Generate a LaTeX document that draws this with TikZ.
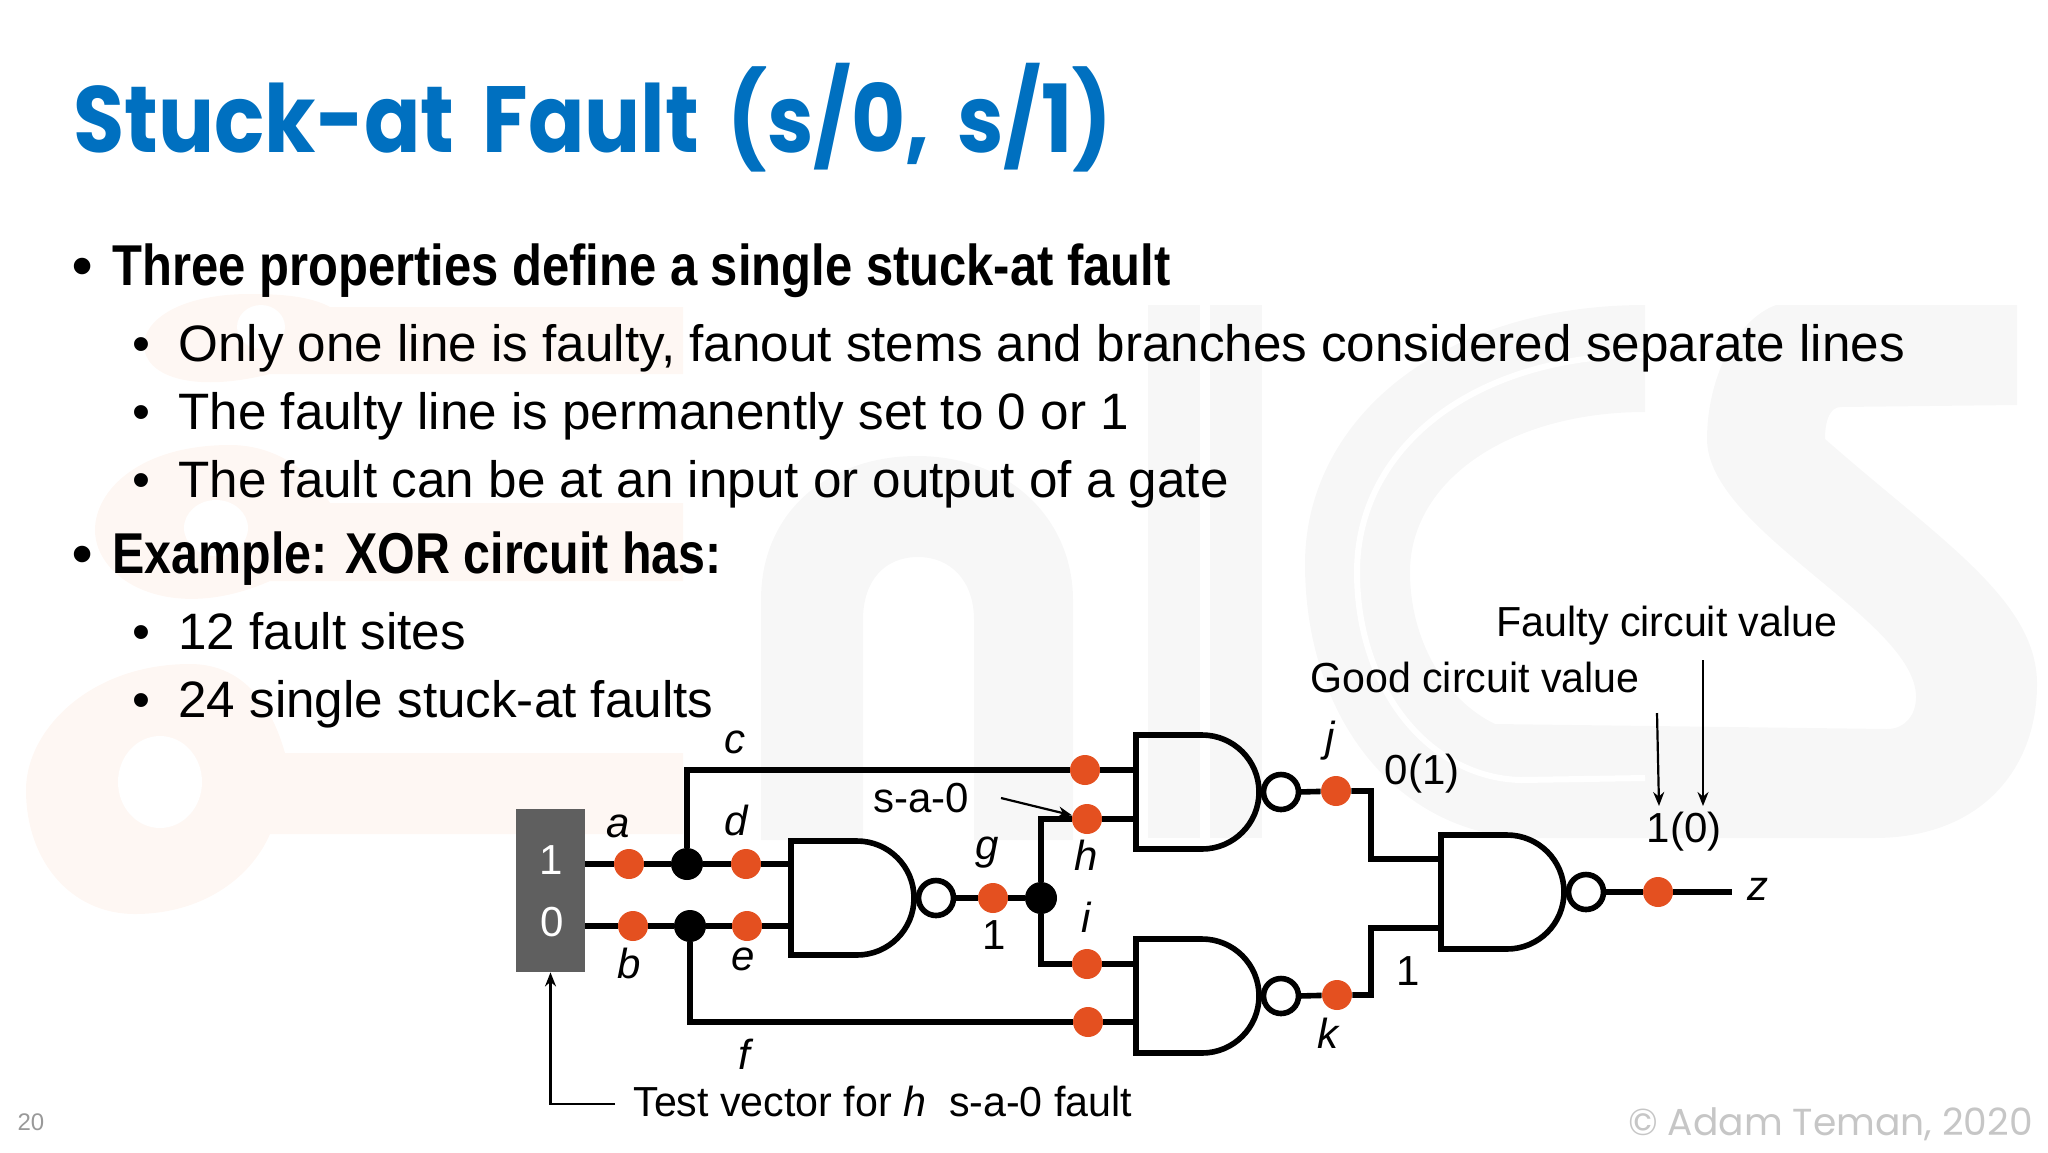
\documentclass[tikz,border=0pt]{standalone}
\usepackage{graphicx}
\usepackage{fontspec}
\setmainfont{Liberation Sans}
\newfontfamily\titlefont{Poppins}[BoldFont={Poppins Bold},BoldFeatures={WordSpace=1.6}]
\usetikzlibrary{shapes,arrows.meta,positioning,backgrounds}
\definecolor{titleblue}{RGB}{0,112,192}
\definecolor{siteorange}{RGB}{228,80,32}
\definecolor{boxgray}{RGB}{95,95,95}
\definecolor{markpeach}{RGB}{254,247,243}
\definecolor{markgray}{RGB}{247,247,247}
\newcommand{\squeeze}[2]{\scalebox{#1}[1]{#2}}
\tikzstyle{head} = [anchor=base west, inner sep=0pt, font=\fontsize{28.8}{34}\selectfont\bfseries]
\tikzstyle{sub} = [anchor=base west, inner sep=0pt, font=\fontsize{25.6}{30}\selectfont]
\tikzstyle{label} = [inner sep=0pt, font=\fontsize{21}{25}\selectfont]
\tikzstyle{gatebody} = [rectangle, minimum width=61.5pt, minimum height=57pt, inner sep=0pt, outer sep=0pt]
\tikzstyle{bubble} = [circle, draw, line width=2.8pt, minimum size=17.5pt, inner sep=0pt, outer sep=0pt]
\tikzstyle{site} = [circle, fill=siteorange, minimum size=15pt, inner sep=0pt]
\tikzstyle{junction} = [circle, fill=black, minimum size=16pt, inner sep=0pt]
\tikzstyle{wire} = [line width=2.8pt]
\tikzstyle{arrow} = [line width=1.1pt,->,>={Stealth[length=7pt,width=5.5pt]}]
\newcommand{\nandgate}[2]{
    \node [gatebody] (#1) at (#2) {};
    \draw [wire, miter limit=2] (#1.north west) -- ++(66,0) arc (-90:90:57) -- (#1.south west) -- cycle;
    \node [bubble, right=2.25pt of #1] (#1out) {};
}

\begin{document}
\begin{tikzpicture}[x=0.5pt,y=-0.5pt]
    \useasboundingbox (0,0) rectangle (2048,1152);

    % Watermark
    \fill [markpeach] (250,294) .. controls (180,294) and (144,320) .. (144,345) .. controls (144,375) and (190,394) .. (270,374) -- (683,374) -- (683,307) -- (330,307) .. controls (310,296) and (280,294) .. (250,294) -- cycle;
    \fill [white] (261,327) ellipse (24 and 22);
    \fill [markpeach] (230,445) .. controls (140,445) and (95,490) .. (95,530) .. controls (95,580) and (170,625) .. (270,581) -- (683,581) -- (683,503) -- (330,503) .. controls (310,470) and (275,445) .. (230,445) -- cycle;
    \fill [white] (216,528) ellipse (32 and 28);
    \fill [markpeach] (190,664) .. controls (90,664) and (26,730) .. (26,790) .. controls (26,860) and (70,914) .. (135,914) .. controls (200,914) and (250,880) .. (270,834) -- (683,834) -- (683,753) -- (285,753) .. controls (270,700) and (240,664) .. (190,664) -- cycle;
    \fill [white] (160,782) ellipse (42 and 46);
    \fill [markgray] (761,840) -- (761,600) .. controls (761,510) and (830,456) .. (917,456) .. controls (1010,456) and (1073,520) .. (1073,600) -- (1073,840) -- (974,840) -- (974,620) .. controls (974,580) and (950,557) .. (918,557) .. controls (885,557) and (863,580) .. (863,620) -- (863,840) -- cycle;
    \fill [markgray] (1148,305) rectangle (1200,838);
    \fill [markgray] (1210,305) rectangle (1262,838);
    \fill [markgray] (1645,305) .. controls (1440,305) and (1305,420) .. (1305,564) .. controls (1305,720) and (1400,838) .. (1534,838) -- (1874,838) .. controls (1980,838) and (2037,770) .. (2037,684) .. controls (2037,600) and (1940,540) .. (1825,439) .. controls (1825,420) and (1830,407) .. (1841,407) -- (2017,405) -- (2017,305) -- (1776,305) .. controls (1735,320) and (1707,380) .. (1707,439) .. controls (1707,530) and (1916,620) .. (1916,697) .. controls (1916,715) and (1905,729) .. (1887,729) -- (1495,724) .. controls (1445,700) and (1410,640) .. (1410,572) .. controls (1410,480) and (1510,412) .. (1645,412) -- cycle;
    \draw [white, line width=3pt] (1645,355) .. controls (1470,355) and (1357,450) .. (1357,572) .. controls (1357,690) and (1430,778) .. (1521,780) -- (1645,778);

    % Title and text
    \node [anchor=base west, inner sep=0pt, text=titleblue, font=\fontsize{47}{56}\selectfont\titlefont\bfseries] (title) at (73,152) {\squeeze{0.885}{Stuck-at Fault (s/0, s/1)}};
    \node [head] (dotA) at (72,285) {•};
    \node [head] (headA) at (112,285) {\squeeze{0.85}{Three properties define a single stuck-at fault}};
    \node [sub] (dotB) at (132,361) {•};
    \node [sub] (subA) at (178,361) {Only one line is faulty, fanout stems and branches considered separate lines};
    \node [sub] (dotC) at (132,429) {•};
    \node [sub] (subB) at (178,429) {The faulty line is permanently set to 0 or 1};
    \node [sub] (dotD) at (132,497) {•};
    \node [sub] (subC) at (178,497) {The fault can be at an input or output of a gate};
    \node [head] (dotE) at (72,573) {•};
    \node [head] (headB) at (112,573) {\squeeze{0.84}{Example: XOR circuit has:}};
    \node [sub] (dotF) at (132,649) {•};
    \node [sub] (subD) at (178,649) {12 fault sites};
    \node [sub] (dotG) at (132,717) {•};
    \node [sub] (subE) at (178,717) {24 single stuck-at faults};

    % Test vector box
    \node [fill=boxgray, minimum width=34.5pt, minimum height=81.5pt, inner sep=0pt] (vector) at (550.5,890.5) {};
    \node [label, text=white] (one) at (551,860) {1};
    \node [label, text=white] (zero) at (552,922) {0};

    % Gates
    \nandgate{gateA}{852.5,898}
    \nandgate{gateB}{1197.5,792}
    \nandgate{gateC}{1197.5,996}
    \nandgate{gateD}{1502.5,892}

    % Fault sites
    \node [site] (a) at (629,864) {};
    \node [junction] (stemA) at (687,864) {};
    \node [site] (d) at (746,864) {};
    \node [site] (b) at (633,926) {};
    \node [junction] (stemB) at (690,926) {};
    \node [site] (e) at (747,926) {};
    \node [site] (c) at (1085,770) {};
    \node [site] (h) at (1087,819) {};
    \node [site] (g) at (993,898) {};
    \node [junction] (stemG) at (1041,898) {};
    \node [site] (i) at (1087,964) {};
    \node [site] (f) at (1088,1022) {};
    \node [site] (j) at (1336,791) {};
    \node [site] (k) at (1337,995) {};
    \node [site] (z) at (1658,892) {};
    \coordinate (zend) at (1732,892);
    \coordinate (jbend) at (1371,791);
    \coordinate (kbend) at (1371,995);
    \coordinate (inJ) at (1441,859);
    \coordinate (inK) at (1441,928);

    % Wires
    \draw [wire] (vector.east |- a) -- (a) -- (stemA) -- (d) -- (gateA.west |- d);
    \draw [wire] (vector.east |- b) -- (b) -- (stemB) -- (e) -- (gateA.west |- e);
    \draw [wire] (stemA) |- (c);
    \draw [wire] (c) -- (gateB.west |- c);
    \draw [wire] (stemB) |- (f);
    \draw [wire] (f) -- (gateC.west |- f);
    \draw [wire] (gateAout.east) -- (g) -- (stemG);
    \draw [wire] (stemG) |- (h);
    \draw [wire] (h) -- (gateB.west |- h);
    \draw [wire] (stemG) |- (i);
    \draw [wire] (i) -- (gateC.west |- i);
    \draw [wire] (gateBout.east) -- (j) -- (jbend) -- (jbend |- inJ) -- (inJ);
    \draw [wire] (gateCout.east) -- (k) -- (kbend) -- (kbend |- inK) -- (inK);
    \draw [wire] (gateDout.east) -- (z) -- (zend);

    % Labels
    \node [label] (lblC) at (735,742) {\textit{c}};
    \node [label] (lblA) at (618,826) {\textit{a}};
    \node [label] (lblD) at (737,820) {\textit{d}};
    \node [label] (lblB) at (629,963) {\textit{b}};
    \node [label] (lblE) at (743,959) {\textit{e}};
    \node [label] (lblF) at (746,1054) {\textit{f}};
    \node [label] (lblG) at (987,853) {\textit{g}};
    \node [label] (lblH) at (1086,855) {\textit{h}};
    \node [label] (lblI) at (1087,917) {\textit{i}};
    \node [label] (lblJ) at (1331,741) {\textit{j}};
    \node [label] (lblK) at (1329,1033) {\textit{k}};
    \node [label] (lblZ) at (1758,889) {\textit{z}};
    \node [label] (valG) at (994,935) {1};
    \node [label] (valJ) at (1422,774) {0(1)};
    \node [label] (valK) at (1408,971) {1};
    \node [label] (valZ) at (1684,832) {1(0)};
    \node [label] (fault) at (921,798) {s-a-0};
    \node [label] (good) at (1475,677) {\squeeze{0.98}{Good circuit value}};
    \node [label] (faulty) at (1667,626) {\squeeze{0.98}{Faulty circuit value}};
    \node [label, anchor=west] (test) at (633,1101) {\squeeze{0.98}{Test vector for \textit{h}\ \ s-a-0 fault}};

    % Arrows
    \coordinate (faultstart) at (1001,798);
    \coordinate (goodstart) at (1657,713);
    \coordinate (goodend) at (1659,806);
    \coordinate (faultystart) at (1703,660);
    \coordinate (faultyend) at (1703,806);
    \coordinate (teststart) at (615,1104);
    \draw [arrow] (faultstart) -- (h);
    \draw [arrow] (goodstart) -- (goodend);
    \draw [arrow] (faultystart) -- (faultyend);
    \draw [arrow] (teststart) -| (vector.south);

    % Footer
    \node [text=gray!80, font=\fontsize{12}{14}\selectfont] (page) at (31,1122) {20};
    \node [anchor=east, inner sep=0pt, text=gray!45, font=\fontsize{18.8}{24}\selectfont\titlefont] (copy) at (2033,1124) {© Adam Teman, 2020};
\end{tikzpicture}
\end{document}
